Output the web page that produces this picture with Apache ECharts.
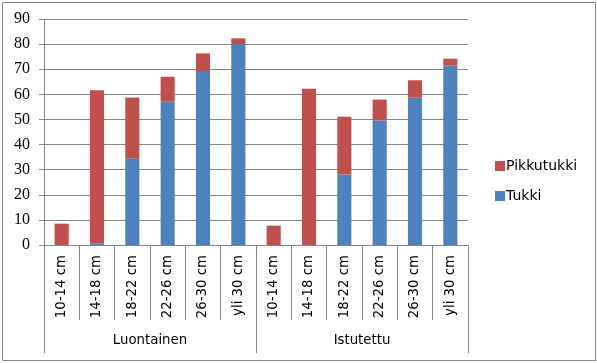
<!DOCTYPE html>
<html><head><meta charset="utf-8">
<script src="https://cdn.jsdelivr.net/npm/echarts@6/dist/echarts.min.js"></script>
<style>html,body{margin:0;padding:0;background:#fff}#c{width:597px;height:363px}</style>
</head><body><div id="c"></div>
<script>
const categories = ['10-14 cm','14-18 cm','18-22 cm','22-26 cm','26-30 cm','yli 30 cm','10-14 cm','14-18 cm','18-22 cm','22-26 cm','26-30 cm','yli 30 cm'];
const groups = ['Luontainen','Istutettu'];
const tukki = [0, 0.7, 34.5, 57.1, 69.3, 80.0, 0, 0, 28.1, 49.6, 58.7, 71.4];
const pikkutukki = [8.5, 60.9, 24.2, 9.9, 7.0, 2.3, 7.7, 62.2, 23.0, 8.3, 6.9, 2.8];
const yTicks = {min: 0, max: 90, interval: 10};

const gray = '#868686';
const sans = 'DejaVu Sans';
const chart = echarts.init(document.getElementById('c'), null, {renderer: 'canvas'});
chart.setOption({
  animation: false,
  backgroundColor: '#fff',
  graphic: [{type: 'rect', shape: {x: 2.5, y: 2.5, width: 593, height: 358}, style: {fill: 'none', stroke: gray, lineWidth: 1}, silent: true}],
  grid: {left: 44, right: 129, top: 19, bottom: 118, containLabel: false},
  legend: {
    orient: 'vertical', left: 495, top: 158, padding: 0, itemGap: 14,
    itemWidth: 10, itemHeight: 10, icon: 'rect',
    data: ['Pikkutukki', 'Tukki'],
    textStyle: {fontFamily: sans, fontSize: 14, color: '#000', lineHeight: 16, padding: [0, 0, 0, -4]}
  },
  xAxis: [{
    type: 'category', data: categories, position: 'bottom',
    axisLine: {show: true, lineStyle: {color: gray, width: 1}},
    axisTick: {show: true, length: 75, interval: 0, lineStyle: {color: gray}},
    axisLabel: {interval: 0, rotate: 90, margin: 10, fontFamily: sans, fontSize: 13.3, color: '#000'}
  }, {
    type: 'category', data: groups, position: 'bottom',
    axisLine: {show: false},
    axisTick: {show: true, length: 108, interval: 0, lineStyle: {color: gray}},
    axisLabel: {interval: 0, margin: 89, fontFamily: sans, fontSize: 13.3, color: '#000'}
  }],
  yAxis: {
    type: 'value', min: yTicks.min, max: yTicks.max, interval: yTicks.interval,
    axisLine: {show: true, lineStyle: {color: gray}},
    axisTick: {show: true, length: 5, lineStyle: {color: gray}},
    splitLine: {show: true, lineStyle: {color: gray, width: 1}},
    axisLabel: {margin: 14, fontFamily: 'Liberation Serif', fontSize: 16, color: '#000'}
  },
  series: [
    {name: 'Tukki', type: 'bar', stack: 's', data: tukki, barWidth: '40%', itemStyle: {color: '#4F81BD'}, xAxisIndex: 0},
    {name: 'Pikkutukki', type: 'bar', stack: 's', data: pikkutukki, barWidth: '40%', itemStyle: {color: '#C0504D'}, xAxisIndex: 0}
  ]
});
</script></body></html>
